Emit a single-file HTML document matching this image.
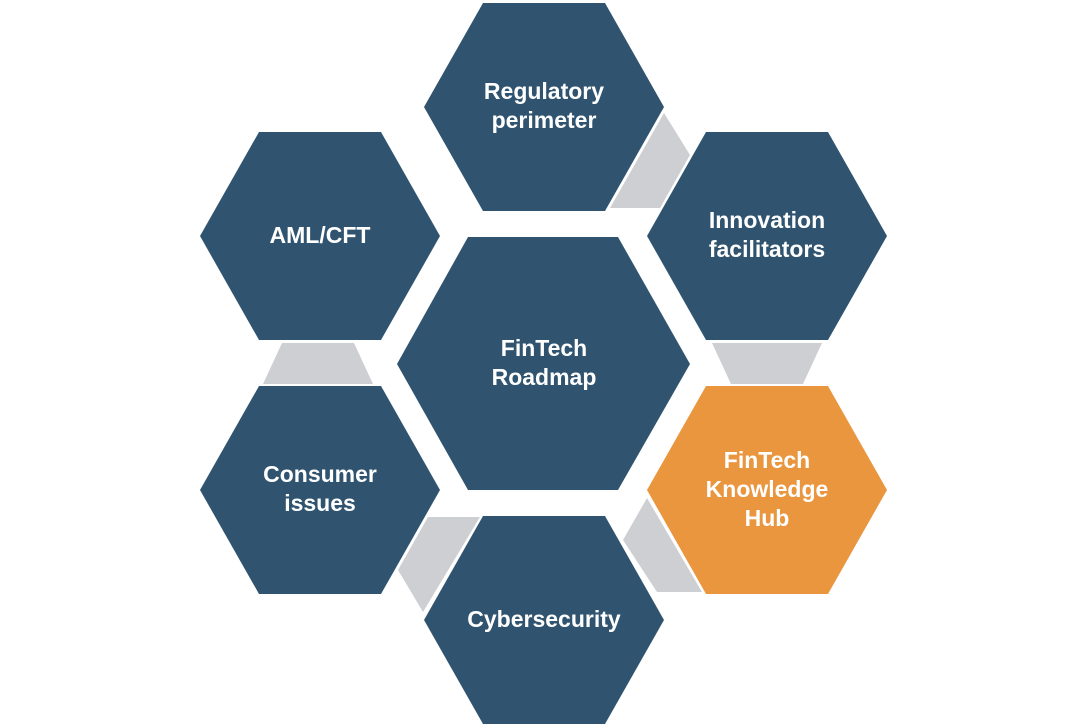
<!DOCTYPE html>
<html><head><meta charset="utf-8"><style>
html,body{margin:0;padding:0;background:#fff;}
svg{display:block;}
text{font-family:"Liberation Sans",sans-serif;font-weight:bold;font-size:23px;fill:#fff;text-anchor:middle;}
</style></head><body>
<svg width="1085" height="727" viewBox="0 0 1085 727" xmlns="http://www.w3.org/2000/svg">
<g fill="#CDCFD3">
<polygon points="664,113 690,155 660,208 610,208"/>
<polygon points="282,343 354,343 373,384 263,384"/>
<polygon points="712,343 822,343 803,384 731,384"/>
<polygon points="428,517 480,517 423,612 398,570"/>
<polygon points="647,498 623,540 657,592 702,592"/>
</g>
<g fill="#30546F">
<polygon points="424,107 483,3 605,3 664,107 605,211 483,211"/>
<polygon points="200,236 259,132 381,132 440,236 381,340 259,340"/>
<polygon points="647,236 706,132 828,132 887,236 828,340 706,340"/>
<polygon points="200,490 259,386 381,386 440,490 381,594 259,594"/>
<polygon points="424,620 483,516 605,516 664,620 605,724 483,724"/>
<polygon points="397,364 468,237 618,237 690,364 618,490 468,490"/>
</g>
<polygon fill="#E9963E" points="647,490 706,386 828,386 887,490 828,594 706,594"/>
<text x="544" y="99">Regulatory</text>
<text x="544" y="128">perimeter</text>
<text x="320" y="243">AML/CFT</text>
<text x="767" y="228">Innovation</text>
<text x="767" y="257">facilitators</text>
<text x="544" y="356">FinTech</text>
<text x="544" y="385">Roadmap</text>
<text x="320" y="482">Consumer</text>
<text x="320" y="511">issues</text>
<text x="767" y="468">FinTech</text>
<text x="767" y="497">Knowledge</text>
<text x="767" y="526">Hub</text>
<text x="544" y="627">Cybersecurity</text>
</svg>
</body></html>
